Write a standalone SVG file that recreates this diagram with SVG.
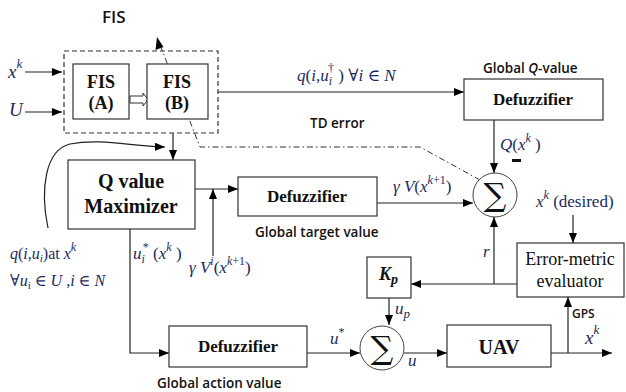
<svg xmlns="http://www.w3.org/2000/svg" width="626" height="392" viewBox="0 0 626 392">
<defs>
<marker id="ah" viewBox="0 0 10 8" refX="10" refY="4" markerWidth="10" markerHeight="8" markerUnits="userSpaceOnUse" orient="auto">
<path d="M0,0 L10,4 L0,8 Z" fill="#000"/>
</marker>
</defs>
<style>
.box{fill:#fff;stroke:#333;stroke-width:1.2}
.ln{fill:none;stroke:#222;stroke-width:1.2}
.bt{font-family:'Liberation Serif','Times New Roman','DejaVu Serif',serif;font-weight:bold;fill:#111;text-anchor:middle}
.rt{font-family:'Liberation Serif','Times New Roman','DejaVu Serif',serif;fill:#111;text-anchor:middle}
.m{font-family:'Liberation Serif','Times New Roman','DejaVu Serif',serif;font-style:italic;fill:#1c2a60}
.mu{font-style:normal}
.s{font-family:'Open Sans','Liberation Sans',sans-serif;font-weight:600;fill:#111}
</style>

<g id="connectors">
<line class="ln" x1="25" y1="72" x2="62" y2="72" marker-end="url(#ah)"/>
<line class="ln" x1="25" y1="112" x2="62" y2="112" marker-end="url(#ah)"/>
<path d="M130,96 H143 V93 L148,99.5 L143,106 V103 H130 Z" fill="#fff" stroke="#333" stroke-width="1"/>
<line class="ln" x1="218" y1="92" x2="464" y2="92" marker-end="url(#ah)"/>
<line class="ln" x1="173" y1="133" x2="173" y2="160" marker-end="url(#ah)"/>
<path class="ln" d="M48,228 C40,190 45,150 70,144 C100,138 130,146 165,147" marker-end="url(#ah)"/>
<line class="ln" x1="195" y1="189" x2="238" y2="189" marker-end="url(#ah)"/>
<line class="ln" x1="213" y1="256" x2="213" y2="189" marker-end="url(#ah)"/>
<line class="ln" x1="377" y1="203" x2="473" y2="203" marker-end="url(#ah)"/>
<line class="ln" x1="494" y1="120" x2="494" y2="173" marker-end="url(#ah)"/>
<path d="M480,180 L420,147 L200,147 L160,45" fill="none" stroke="#333" stroke-width="1" stroke-dasharray="6,3,1.5,3"/>
<polygon points="157,37 163.5,47 155.5,50" fill="#000"/>
<line class="ln" x1="573" y1="215" x2="573" y2="243" marker-end="url(#ah)"/>
<line class="ln" x1="517" y1="284" x2="411" y2="284" marker-end="url(#ah)"/>
<line class="ln" x1="494" y1="284" x2="494" y2="217" marker-end="url(#ah)"/>
<line class="ln" x1="389" y1="298" x2="389" y2="325" marker-end="url(#ah)"/>
<path class="ln" d="M130,229 V353 H169" marker-end="url(#ah)"/>
<line class="ln" x1="307" y1="353" x2="360" y2="353" marker-end="url(#ah)"/>
<line class="ln" x1="404" y1="353" x2="447" y2="353" marker-end="url(#ah)"/>
<line class="ln" x1="551" y1="353" x2="612" y2="353" marker-end="url(#ah)"/>
<line class="ln" x1="568" y1="353" x2="568" y2="297" marker-end="url(#ah)"/>
</g>

<g id="fis-group">
<rect x="64" y="51" width="154" height="82" fill="none" stroke="#333" stroke-width="1.2" stroke-dasharray="5,3"/>
<text class="s" x="102" y="23" font-size="17" font-weight="bold">FIS</text>
</g>
<g id="fis-a">
<rect class="box" x="73" y="64" width="56" height="55"/>
<text class="bt" x="101" y="88" font-size="18">FIS</text>
<text class="bt" x="101" y="109" font-size="18">(A)</text>
</g>
<g id="fis-b">
<rect class="box" x="147" y="64" width="61" height="55"/>
<text class="bt" x="177" y="88" font-size="18">FIS</text>
<text class="bt" x="177" y="109" font-size="18">(B)</text>
</g>
<g id="defuzz-q">
<rect class="box" x="464" y="79" width="139" height="41"/>
<text class="bt" x="533" y="105" font-size="17">Defuzzifier</text>
</g>
<g id="q-max">
<rect class="box" x="68" y="160" width="127" height="69"/>
<text class="bt" x="131" y="188" font-size="20">Q value</text>
<text class="bt" x="131" y="213" font-size="20">Maximizer</text>
</g>
<g id="defuzz-v">
<rect class="box" x="238" y="177" width="139" height="39"/>
<text class="bt" x="307" y="202" font-size="17">Defuzzifier</text>
</g>
<g id="sum-top">
<circle cx="495" cy="195" r="22" fill="#fff" stroke="#444" stroke-width="1"/>
<text x="495" y="206" font-family="'DejaVu Serif',serif" font-size="32" text-anchor="middle" fill="#111">∑</text>
</g>
<g id="evaluator">
<rect class="box" x="517" y="243" width="107" height="54"/>
<text class="rt" x="570" y="265" font-size="18">Error-metric</text>
<text class="rt" x="570" y="287" font-size="18">evaluator</text>
</g>
<g id="kp">
<rect class="box" x="367" y="257" width="44" height="41"/>
<text x="379" y="280" font-family="'Liberation Serif','DejaVu Serif',serif" font-weight="bold" font-style="italic" font-size="18" fill="#111">K<tspan font-size="14" dy="4">p</tspan></text>
</g>
<g id="defuzz-u">
<rect class="box" x="169" y="326" width="138" height="41"/>
<text class="bt" x="238" y="352" font-size="17">Defuzzifier</text>
</g>
<g id="sum-bottom">
<circle cx="382" cy="348" r="22" fill="#fff" stroke="#444" stroke-width="1"/>
<text x="382" y="359" font-family="'DejaVu Serif',serif" font-size="32" text-anchor="middle" fill="#111">∑</text>
</g>
<g id="uav">
<rect class="box" x="447" y="325" width="104" height="42"/>
<text class="bt" x="499" y="354" font-size="20">UAV</text>
</g>

<g id="labels">
<text class="m" x="8" y="78" font-size="19">x<tspan font-size="13" dy="-10">k</tspan></text>
<text class="m" x="9" y="116" font-size="19">U</text>
<text class="m" x="297" y="81" font-size="17">q<tspan class="mu">(</tspan>i<tspan class="mu">,</tspan>u<tspan font-size="12" dy="4">i</tspan><tspan font-size="12" dx="-4" dy="-13" class="mu">†</tspan><tspan class="mu" dy="9"> )  ∀</tspan>i<tspan class="mu"> ∈ </tspan>N</text>
<text class="s" x="483" y="73" font-size="13.5">Global <tspan font-style="italic">Q</tspan>-value</text>
<text class="s" x="310" y="128" font-size="13.5">TD error</text>
<text class="m" x="500" y="150" font-size="17">Q<tspan class="mu">(</tspan>x<tspan font-size="12" dy="-8">k</tspan><tspan class="mu" dy="8"> )</tspan></text>
<rect x="512" y="159" width="9" height="3" fill="#111"/>
<text class="m" x="393" y="192" font-size="17">γ V<tspan class="mu">(</tspan>x<tspan font-size="12" dy="-8">k</tspan><tspan font-size="12" class="mu">+1</tspan><tspan class="mu" dy="8">)</tspan></text>
<text class="s" x="255" y="237" font-size="13.5">Global target value</text>
<text class="m" x="10" y="259" font-size="16">q<tspan class="mu">(</tspan>i<tspan class="mu">,</tspan>u<tspan font-size="11" dy="3">i</tspan><tspan class="mu" dy="-3">)at </tspan>x<tspan font-size="12" dy="-8">k</tspan></text>
<text class="m" x="10" y="286" font-size="16"><tspan class="mu">∀</tspan>u<tspan font-size="11" dy="3" class="mu">i</tspan><tspan class="mu" dy="-3"> ∈ </tspan>U<tspan class="mu"> ,</tspan>i<tspan class="mu"> ∈ </tspan>N</text>
<text class="m" x="133" y="259" font-size="17">u<tspan font-size="12" dy="4">i</tspan><tspan font-size="12" dx="-2" dy="-12" class="mu">*</tspan><tspan class="mu" dy="8"> (</tspan>x<tspan font-size="12" dy="-8">k</tspan><tspan class="mu" dy="8"> )</tspan></text>
<text class="m" x="189" y="273" font-size="17">γ V<tspan font-size="12" dy="-8">i</tspan><tspan class="mu" dy="8">(</tspan>x<tspan font-size="12" dy="-8">k</tspan><tspan font-size="12" class="mu">+1</tspan><tspan class="mu" dy="8">)</tspan></text>
<text class="m" x="536" y="207" font-size="17">x<tspan font-size="12" dy="-8">k</tspan><tspan class="mu" dy="8"> (desired)</tspan></text>
<text class="m" x="483" y="257" font-size="17">r</text>
<text class="m" x="395" y="314" font-size="17">u<tspan font-size="13" dy="4">p</tspan></text>
<text class="m" x="330" y="344" font-size="17">u<tspan font-size="12" dy="-8" class="mu">*</tspan></text>
<text class="m" x="408" y="366" font-size="17">u</text>
<text class="s" x="572" y="318" font-size="12" font-weight="normal">GPS</text>
<text class="m" x="585" y="344" font-size="19">x<tspan font-size="13" dy="-10">k</tspan></text>
<text class="s" x="157" y="388" font-size="13.5">Global action value</text>
</g>
</svg>
